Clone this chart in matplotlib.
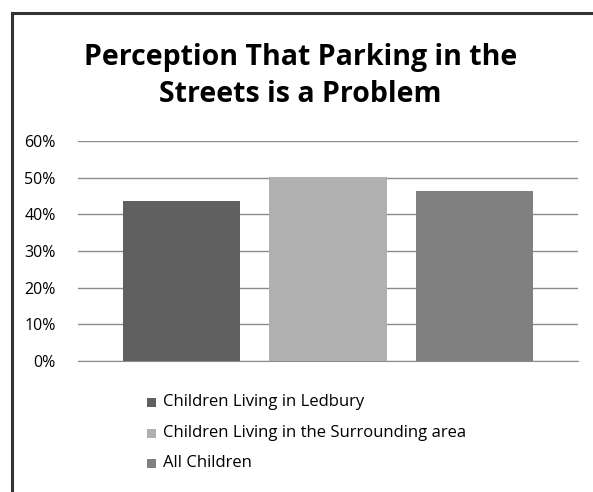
import matplotlib
matplotlib.use("Agg")
import matplotlib.pyplot as plt
from matplotlib.patches import Rectangle

categories = ["Children Living in Ledbury", "Children Living in the Surrounding area", "All Children"]
values = [43.6, 50.1, 46.5]
colors = ["#606060", "#b0b0b0", "#808080"]
yticks = [0, 10, 20, 30, 40, 50, 60]
title = "Perception That Parking in the\nStreets is a Problem"

W, H = 593, 492
fig = plt.figure(figsize=(W/100, H/100), dpi=100)
plt.rcParams['font.family'] = ['Open Sans', 'DejaVu Sans']

# outer border
fig.patches.append(Rectangle((12/W, -0.05), 1.1, (H - 13)/H + 0.05, transform=fig.transFigure,
                             fill=False, edgecolor="#333333", linewidth=2.2))

ax = fig.add_axes([78/W, 1 - 361/H, 500/W, 220/H])
for i, (c, v, col) in enumerate(zip(categories, values, colors)):
    ax.bar(i, v, width=0.8, color=col, label=c, zorder=3)
ax.set_xlim(-0.706, 2.707)
ax.set_ylim(0, 60)
ax.set_yticks(yticks)
ax.set_yticklabels([f"{t}%" for t in yticks], fontsize=11.5)
ax.yaxis.grid(True, color="#8c8c8c", linewidth=1, zorder=0)
ax.tick_params(axis='y', length=0, pad=16)
ax.tick_params(axis='x', length=0, labelbottom=False)
for s in ["top", "right", "left"]:
    ax.spines[s].set_visible(False)
ax.spines["bottom"].set_color("#8c8c8c")

fig.text(0.5 + 4/W, 1 - 76/H, title, ha="center", va="center", fontsize=20.5, fontweight="bold", linespacing=1.35)

ys = [402, 433, 463]
for c, col, y in zip(categories, colors, ys):
    fig.patches.append(Rectangle((147/W, 1 - (y + 4.5)/H), 9/W, 9/H, transform=fig.transFigure,
                                 facecolor=col, edgecolor="none"))
    fig.text(163/W, 1 - y/H, c, ha="left", va="center", fontsize=12)

fig.savefig("out.png", dpi=100)
